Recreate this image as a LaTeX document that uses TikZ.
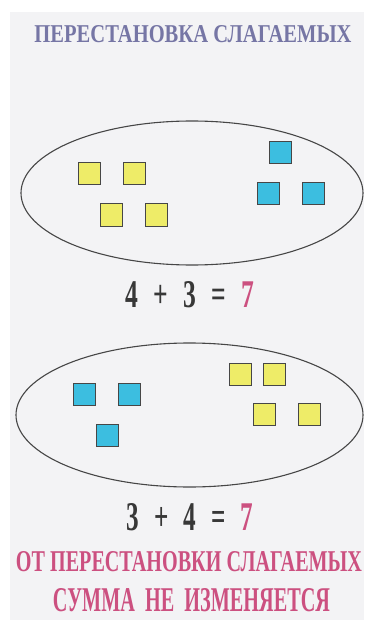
\documentclass[tikz,border=0pt]{standalone}
\usepackage{fontspec}
\setmainfont{Liberation Serif}
\usepackage{graphicx}
\definecolor{SheetGray}{RGB}{243,243,245}
\definecolor{TitleBlue}{RGB}{118,118,165}
\definecolor{RuleRed}{RGB}{204,80,128}
\definecolor{CubeYellow}{RGB}{238,236,104}
\definecolor{CubeBlue}{RGB}{60,190,224}
\definecolor{LineGray}{RGB}{70,70,70}
\definecolor{SumGray}{RGB}{55,55,55}
\tikzset{
  cube/.style={draw=LineGray,line width=1pt},
  oval/.style={draw=LineGray,line width=1.1pt},
}
\newcommand{\fitto}[3]{\resizebox{#1}{#2}{\bfseries #3}}

\begin{document}
\begin{tikzpicture}[x=1pt,y=-1pt]
      \useasboundingbox (0,0) rectangle (364,620);
      \fill[white] (0,0) rectangle (364,620);
      \fill[SheetGray] (10,12) rectangle (364,620);
      \node[TitleBlue] (title) at (193,34.5){\fitto{317pt}{17pt}{ПЕРЕСТАНОВКА СЛАГАЕМЫХ}};
      % 4 + 3
      \draw[oval] (192,193) ellipse [x radius=171, y radius=72];
      \foreach \x/\y in {78/163,123/163,100/204,145/204}
        \draw[cube,fill=CubeYellow] (\x,\y) rectangle ++(22,22);
      \foreach \x/\y in {269/142,257/183,302/183}
        \draw[cube,fill=CubeBlue] (\x,\y) rectangle ++(22,22);
      \node[SumGray] (eqa) at (190,295){\fitto{129pt}{26pt}{4\hspace{.6em}+\hspace{.6em}3\hspace{.6em}=\hspace{.6em}\textcolor{RuleRed}{7}}};
      % 3 + 4
      \draw[oval] (189.5,415) ellipse [x radius=173.5, y radius=72];
      \foreach \x/\y in {73/383,118/383,96/424}
        \draw[cube,fill=CubeBlue] (\x,\y) rectangle ++(22,22);
      \foreach \x/\y in {229/363,263/363,253/403,298/403}
        \draw[cube,fill=CubeYellow] (\x,\y) rectangle ++(22,22);
      \node[SumGray] (eqb) at (190,517){\fitto{127pt}{27pt}{3\hspace{.6em}+\hspace{.6em}4\hspace{.6em}=\hspace{.6em}\textcolor{RuleRed}{7}}};
      \node[RuleRed] (rulea) at (189,562){\fitto{346pt}{20pt}{ОТ ПЕРЕСТАНОВКИ СЛАГАЕМЫХ}};
      \node[RuleRed] (ruleb) at (191.5,600){\fitto{277pt}{23pt}{СУММА\ \ НЕ\ \ ИЗМЕНЯЕТСЯ}};
    \end{tikzpicture}
\end{document}
